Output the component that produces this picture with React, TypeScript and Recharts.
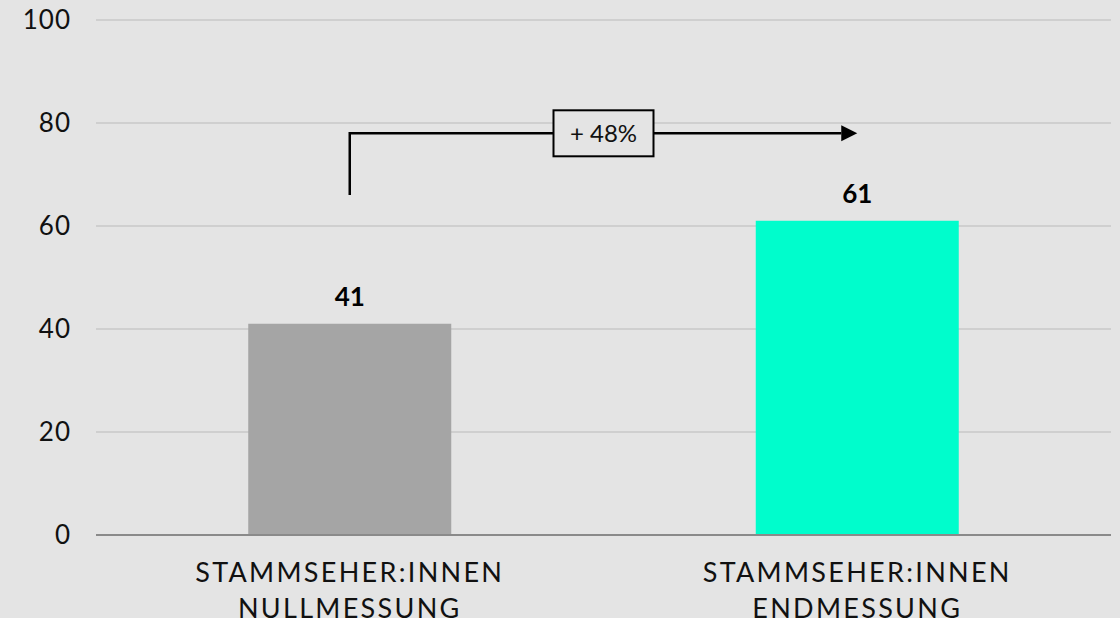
import { BarChart, Bar, XAxis, YAxis, CartesianGrid, LabelList, ReferenceLine, Cell } from "recharts";

// Zuschauerbindung: Nullmessung vs. Endmessung
const categories = ["STAMMSEHER:INNEN\nNULLMESSUNG", "STAMMSEHER:INNEN\nENDMESSUNG"];
const values = [41, 61];
const barColors = ["#a5a5a5", "#00fdcc"];
const yTicks = [0, 20, 40, 60, 80, 100];
const changeLabel = "+ 48%";
// elbow arrow: starts above the first bar, runs across to the second
const arrowFrom = 66;
const arrowLevel = 78;

const data = categories.map((name, i) => ({ name, value: values[i] }));

const FONT = "Lato, 'Open Sans', sans-serif";
const BG = "#e4e4e4";

const CategoryTick = (props: any) => {
  const { x, y, payload } = props;
  const lines = String(payload.value).split("\n");
  return (
    <text
      x={x}
      y={y}
      textAnchor="middle"
      fill="#111"
      fontFamily={FONT}
      fontSize={27}
      letterSpacing={2.3}
    >
      {lines.map((line, i) => (
        <tspan key={i} x={x} dy={i === 0 ? 45 : 36}>
          {line}
        </tspan>
      ))}
    </text>
  );
};

const ElbowArrow = (props: any) => {
  const { x1, y1, x2, y2 } = props;
  const midX = (x1 + x2) / 2;
  const boxW = 100;
  const boxH = 46;
  const head = 16;
  return (
    <g>
      <path
        d={`M${x1},${y1} V${y2} H${x2 - head}`}
        fill="none"
        stroke="#000"
        strokeWidth={2.5}
      />
      <path
        d={`M${x2 - head},${y2 - 8} L${x2},${y2} L${x2 - head},${y2 + 8} Z`}
        fill="#000"
      />
      <rect
        x={midX - boxW / 2}
        y={y2 - boxH / 2}
        width={boxW}
        height={boxH}
        fill={BG}
        stroke="#000"
        strokeWidth={2}
      />
      <text
        x={midX}
        y={y2}
        dy="0.35em"
        textAnchor="middle"
        fontFamily={FONT}
        fontSize={24}
        fill="#111"
      >
        {changeLabel}
      </text>
    </g>
  );
};

export default function App() {
  return (
    <div
      style={{
        position: "absolute",
        left: 0,
        top: 0,
        width: 1120,
        height: 618,
        background: BG,
      }}
    >
      <BarChart
        width={1120}
        height={618}
        data={data}
        margin={{ top: 20, right: 9, left: 0, bottom: 0 }}
        barCategoryGap="30%"
      >
        <CartesianGrid vertical={false} stroke="#bababa" strokeWidth={1} />
        <XAxis
          dataKey="name"
          height={83}
          tickLine={false}
          tickSize={0}
          axisLine={{ stroke: "#8a8a8a", strokeWidth: 2 }}
          tick={<CategoryTick />}
          interval={0}
        />
        <YAxis
          width={96}
          domain={[0, 100]}
          ticks={yTicks}
          axisLine={false}
          tickLine={false}
          tickSize={0}
          tickMargin={25}
          tick={{ fontSize: 26, fill: "#111", fontFamily: FONT, letterSpacing: 1 }}
        />
        <Bar dataKey="value" isAnimationActive={false}>
          {data.map((d, i) => (
            <Cell key={d.name} fill={barColors[i]} />
          ))}
          <LabelList
            dataKey="value"
            position="top"
            offset={18}
            fill="#000"
            fontFamily={FONT}
            fontSize={26}
            fontWeight={700}
          />
        </Bar>
        <ReferenceLine
          segment={[
            { x: categories[0], y: arrowFrom },
            { x: categories[1], y: arrowLevel },
          ]}
          ifOverflow="visible"
          shape={<ElbowArrow />}
        />
      </BarChart>
    </div>
  );
}
